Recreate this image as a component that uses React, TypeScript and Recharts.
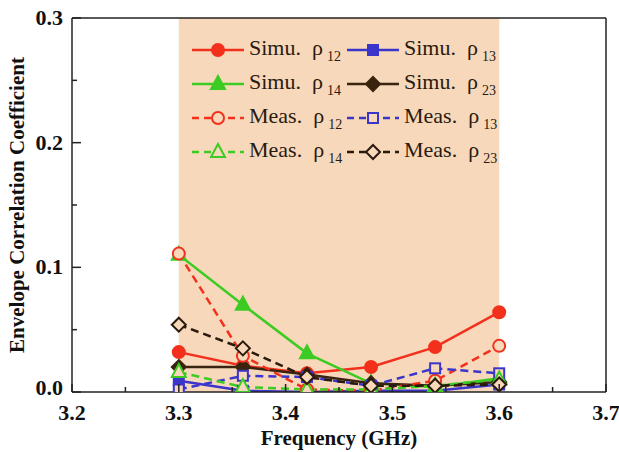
import {
  LineChart,
  Line,
  XAxis,
  YAxis,
  ReferenceArea,
  ReferenceLine,
  Legend,
} from "recharts";

const freqs = [3.3, 3.36, 3.42, 3.48, 3.54, 3.6];
const simu12 = [0.032, 0.021, 0.015, 0.02, 0.036, 0.064];
const simu13 = [0.009, 0.001, 0.0, 0.001, 0.001, 0.006];
const simu14 = [0.11, 0.07, 0.031, 0.007, 0.004, 0.011];
const simu23 = [0.02, 0.02, 0.014, 0.007, 0.005, 0.008];
const meas12 = [0.111, 0.029, 0.002, 0.001, 0.009, 0.037];
const meas13 = [0.002, 0.013, 0.012, 0.005, 0.019, 0.015];
const meas14 = [0.016, 0.004, 0.002, 0.002, 0.005, 0.01];
const meas23 = [0.054, 0.035, 0.012, 0.005, 0.005, 0.006];

const xTicks = [3.2, 3.25, 3.3, 3.35, 3.4, 3.45, 3.5, 3.55, 3.6, 3.65, 3.7];
const yTicks = [0, 0.05, 0.1, 0.15, 0.2, 0.25, 0.3];

const PEACH = "#F7D8BA";
const AXIS = "#222";
const FONT = "'Liberation Serif', 'Times New Roman', serif";

type Shape = "circle" | "square" | "triangle" | "diamond";

// order matches the legend: two per row
const series = [
  { key: "s12", label: "Simu.", sub: "12", values: simu12, color: "#F2301C", dashed: false, shape: "circle" as Shape },
  { key: "s13", label: "Simu.", sub: "13", values: simu13, color: "#3B35CC", dashed: false, shape: "square" as Shape },
  { key: "s14", label: "Simu.", sub: "14", values: simu14, color: "#3CCB22", dashed: false, shape: "triangle" as Shape },
  { key: "s23", label: "Simu.", sub: "23", values: simu23, color: "#3A2410", dashed: false, shape: "diamond" as Shape },
  { key: "m12", label: "Meas.", sub: "12", values: meas12, color: "#F2301C", dashed: true, shape: "circle" as Shape },
  { key: "m13", label: "Meas.", sub: "13", values: meas13, color: "#3B35CC", dashed: true, shape: "square" as Shape },
  { key: "m14", label: "Meas.", sub: "14", values: meas14, color: "#3CCB22", dashed: true, shape: "triangle" as Shape },
  { key: "m23", label: "Meas.", sub: "23", values: meas23, color: "#2A1A0C", dashed: true, shape: "diamond" as Shape },
];

const data = freqs.map((f, i) => {
  const row: Record<string, number> = { f };
  series.forEach((s) => (row[s.key] = s.values[i]));
  return row;
});

function marker(shape: Shape, cx: number, cy: number, color: string, hollow: boolean, key?: string) {
  const fill = hollow ? PEACH : color;
  const common = { fill, stroke: color, strokeWidth: 2 };
  if (shape === "circle") return <circle key={key} cx={cx} cy={cy} r={6} {...common} />;
  if (shape === "square") return <rect key={key} x={cx - 5} y={cy - 5} width={10} height={10} {...common} />;
  if (shape === "triangle")
    return <polygon key={key} points={`${cx},${cy - 8} ${cx - 7},${cy + 5} ${cx + 7},${cy + 5}`} {...common} />;
  return <polygon key={key} points={`${cx},${cy - 7} ${cx + 7},${cy} ${cx},${cy + 7} ${cx - 7},${cy}`} {...common} />;
}

function XTick(props: any) {
  const { x, y, payload } = props;
  const v = payload.value as number;
  const major = Math.round(v * 100) % 10 === 0;
  return (
    <g>
      <line x1={x} x2={x} y1={y} y2={y - (major ? 8 : 5)} stroke={AXIS} strokeWidth={1.5} />
      {major && (
        <text x={x} y={y + 28} textAnchor="middle" fontFamily={FONT} fontWeight="bold" fontSize={22} fill="#111">
          {v.toFixed(1)}
        </text>
      )}
    </g>
  );
}

function YTick(props: any) {
  const { x, y, payload } = props;
  const v = payload.value as number;
  const major = Math.round(v * 100) % 10 === 0;
  return (
    <g>
      <line x1={x} x2={x + (major ? 9 : 5)} y1={y} y2={y} stroke={AXIS} strokeWidth={1.5} />
      {major && (
        <text x={x - 9} y={y + (v === 0 ? 3 : 7)} textAnchor="end" fontFamily={FONT} fontWeight="bold" fontSize={22} fill="#111">
          {v.toFixed(1)}
        </text>
      )}
    </g>
  );
}

function LegendBox() {
  return (
    <div
      style={{
        display: "grid",
        gridTemplateColumns: "155px 160px",
        fontFamily: FONT,
        fontSize: 22,
        color: "#2a1a10",
      }}
    >
      {series.map((s) => (
        <div key={s.key} style={{ display: "flex", alignItems: "center", height: 34 }}>
          <svg width={56} height={20} style={{ flex: "none" }}>
            <line
              x1={2}
              x2={54}
              y1={10}
              y2={10}
              stroke={s.color}
              strokeWidth={2.5}
              strokeDasharray={s.dashed ? "7 5" : undefined}
            />
            {marker(s.shape, 28, 10, s.color, s.dashed)}
          </svg>
          <span style={{ marginLeft: 3, whiteSpace: "nowrap" }}>
            {s.label}&nbsp;&nbsp;ρ
            <sub style={{ fontSize: 14, marginLeft: 4 }}>{s.sub}</sub>
          </span>
        </div>
      ))}
    </div>
  );
}

export default function App() {
  return (
    <div style={{ width: 619, height: 452, background: "#fff" }}>
      <style>{`body{margin:0}`}</style>
      <LineChart width={619} height={452} data={data} margin={{ top: 18, right: 13, left: 0, bottom: 0 }}>
        <ReferenceArea x1={3.3} x2={3.6} y1={0} y2={0.3} fill={PEACH} fillOpacity={1} stroke="none" />
        <XAxis
          type="number"
          dataKey="f"
          domain={[3.2, 3.7]}
          ticks={xTicks}
          interval={0}
          height={60}
          tickSize={0}
          tickMargin={0}
          tickLine={false}
          tick={<XTick />}
          axisLine={{ stroke: AXIS, strokeWidth: 1.5 }}
          allowDataOverflow
          label={(p: any) => {
            const vb = p.viewBox;
            return (
              <text x={vb.x + vb.width / 2} y={445} textAnchor="middle" fontFamily={FONT} fontWeight="bold" fontSize={21} fill="#111">
                Frequency (GHz)
              </text>
            );
          }}
        />
        <YAxis
          type="number"
          domain={[0, 0.3]}
          ticks={yTicks}
          interval={0}
          width={72}
          tickSize={0}
          tickMargin={0}
          tickLine={false}
          tick={<YTick />}
          axisLine={{ stroke: AXIS, strokeWidth: 1.5 }}
          allowDataOverflow
          label={(p: any) => {
            const vb = p.viewBox;
            const cy = vb.y + vb.height / 2;
            return (
              <text x={24} y={cy} transform={`rotate(-90 24 ${cy})`} textAnchor="middle" fontFamily={FONT} fontWeight="bold" fontSize={21} fill="#111">
                Envelope Correlation Coefficient
              </text>
            );
          }}
        />
        <ReferenceLine y={0.3} stroke={AXIS} strokeWidth={1.5} />
        <ReferenceLine x={3.7} stroke={AXIS} strokeWidth={1.5} />
        {series.map((s) => (
          <Line
            key={s.key}
            dataKey={s.key}
            type="linear"
            stroke={s.color}
            strokeWidth={2.5}
            strokeDasharray={s.dashed ? "8 5" : undefined}
            isAnimationActive={false}
            dot={(p: any) => marker(s.shape, p.cx, p.cy, s.color, s.dashed, `${s.key}-${p.index}`)}
            activeDot={false}
          />
        ))}
        <Legend
          layout="vertical"
          align="center"
          verticalAlign="middle"
          wrapperStyle={{ top: 33, left: 190, width: 320, height: 140 }}
          content={() => <LegendBox />}
        />
      </LineChart>
    </div>
  );
}
